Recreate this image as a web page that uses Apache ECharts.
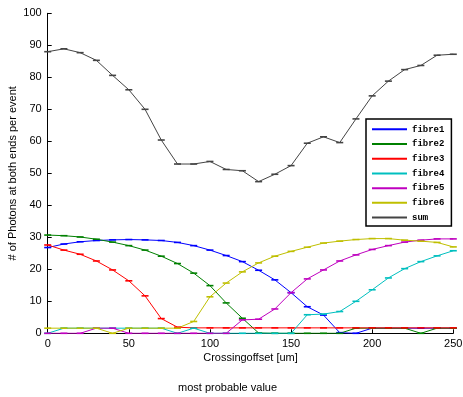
<!DOCTYPE html>
<html>
<head>
<meta charset="utf-8">
<script src="https://cdn.jsdelivr.net/npm/echarts@6/dist/echarts.min.js"></script>
<style>
  html, body {margin: 0; padding: 0; background: #fff;}
  #chart {width: 463px; height: 397px;}
</style>
</head>
<body>
<div id="chart"></div>
<script>
  const offsets = [0, 10, 20, 30, 40, 50, 60, 70, 80, 90, 100, 110, 120, 130, 140, 150, 160, 170, 180, 190, 200, 210, 220, 230, 240, 250];
  const fibre1 = [26.8, 27.9, 28.6, 29.0, 29.2, 29.3, 29.2, 29.0, 28.4, 27.4, 26.0, 24.3, 22.4, 19.7, 16.7, 12.7, 8.3, 5.7, 0.2, 0.0, 1.6, 1.6, 1.6, 1.6, 1.6, 1.6];
  const fibre2 = [30.7, 30.5, 30.1, 29.4, 28.5, 27.4, 26.0, 24.1, 21.8, 18.8, 14.9, 9.5, 4.7, 0.1, 0.0, 0.0, 0.0, 0.0, 0.0, 1.6, 1.6, 1.6, 1.6, 0.0, 1.6, 1.6];
  const fibre3 = [27.6, 26.0, 24.7, 22.6, 19.8, 16.4, 11.7, 4.6, 1.9, 1.7, 1.7, 1.7, 1.7, 1.7, 1.7, 1.7, 1.7, 1.7, 1.7, 1.7, 1.7, 1.7, 1.7, 1.7, 1.7, 1.7];
  const fibre4 = [0.0, 1.6, 1.6, 1.6, 1.6, 1.6, 1.6, 1.6, 0.0, 1.6, 0.0, 0.0, 0.0, 0.0, 0.0, 0.0, 5.8, 6.0, 6.8, 10.0, 13.6, 17.3, 20.2, 22.4, 24.2, 25.8];
  const fibre5 = [0.0, 0.0, 0.0, 1.6, 1.6, 0.0, 0.0, 0.0, 0.0, 0.0, 0.0, 0.0, 4.2, 4.4, 7.6, 12.7, 17.0, 19.8, 22.6, 24.5, 26.2, 27.4, 28.5, 29.1, 29.5, 29.5];
  const fibre6 = [1.6, 1.6, 1.6, 1.6, 0.0, 1.6, 1.6, 1.6, 1.6, 3.7, 11.4, 15.7, 19.2, 22.0, 24.1, 25.6, 26.9, 28.2, 28.8, 29.3, 29.6, 29.6, 29.1, 28.8, 28.4, 27.0];
  const sum = [88.0, 88.9, 87.7, 85.3, 80.6, 76.1, 70.0, 60.4, 52.9, 52.9, 53.7, 51.2, 50.8, 47.4, 49.7, 52.4, 59.4, 61.4, 59.6, 67.0, 74.2, 78.8, 82.4, 83.7, 86.9, 87.2];

  const seriesNames = ['fibre1', 'fibre2', 'fibre3', 'fibre4', 'fibre5', 'fibre6', 'sum'];
  const seriesValues = [fibre1, fibre2, fibre3, fibre4, fibre5, fibre6, sum];
  const seriesColors = ['#0000ff', '#008000', '#ff0000', '#00bfbf', '#bf00bf', '#bfbf00', '#444444'];

  const font = 'Liberation Sans, Arial, sans-serif';
  const myChart = echarts.init(document.getElementById('chart'));

  myChart.setOption({
    animation: false,
    textStyle: {fontFamily: font},
    title: {
      text: 'most probable value',
      left: 173,
      top: 377,
      textStyle: {fontSize: 11, fontWeight: 'normal', color: '#000', fontFamily: font}
    },
    grid: {left: 47.7, right: 9.7, top: 13.3, bottom: 63.7, containLabel: false, outerBoundsMode: 'none'},
    legend: {
      orient: 'vertical',
      left: 366,
      top: 119,
      padding: [3, 7, 1, 6],
      itemGap: 0,
      itemWidth: 35,
      itemHeight: 2,
      icon: 'rect',
      borderColor: '#000',
      borderWidth: 1.5,
      backgroundColor: '#fff',
      data: seriesNames,
      textStyle: {
        fontFamily: 'Liberation Mono, Courier New, monospace',
        fontWeight: 'bold',
        fontSize: 9,
        lineHeight: 14.7,
        color: '#000'
      }
    },
    xAxis: {
      type: 'value',
      min: 0,
      max: 250,
      interval: 50,
      name: 'Crossingoffset [um]',
      nameLocation: 'middle',
      nameGap: 19,
      nameMoveOverlap: false,
      nameTextStyle: {fontSize: 11, color: '#000'},
      axisLine: {lineStyle: {color: '#000', width: 1}},
      axisTick: {inside: true, length: 4, lineStyle: {color: '#000'}},
      axisLabel: {fontSize: 11, color: '#000', margin: 5},
      splitLine: {show: false}
    },
    yAxis: {
      type: 'value',
      min: 0,
      max: 100,
      interval: 10,
      name: '# of Photons at both ends per event',
      nameLocation: 'middle',
      nameGap: 29,
      nameMoveOverlap: false,
      nameTextStyle: {fontSize: 11, color: '#000'},
      axisLine: {show: true, lineStyle: {color: '#000', width: 1}},
      axisTick: {show: true, inside: true, length: 4, lineStyle: {color: '#000'}},
      axisLabel: {fontSize: 11, color: '#000', margin: 6},
      splitLine: {show: false}
    },
    series: seriesNames.map((name, i) => ({
      name: name,
      type: 'line',
      data: offsets.map((x, j) => [x, seriesValues[i][j]]),
      color: seriesColors[i],
      lineStyle: {width: 1, color: seriesColors[i]},
      symbol: 'rect',
      symbolSize: [7, 1.6],
      showSymbol: true,
      itemStyle: {color: seriesColors[i]},
      z: name === 'sum' ? 3 : 2
    }))
  });
</script>
</body>
</html>
